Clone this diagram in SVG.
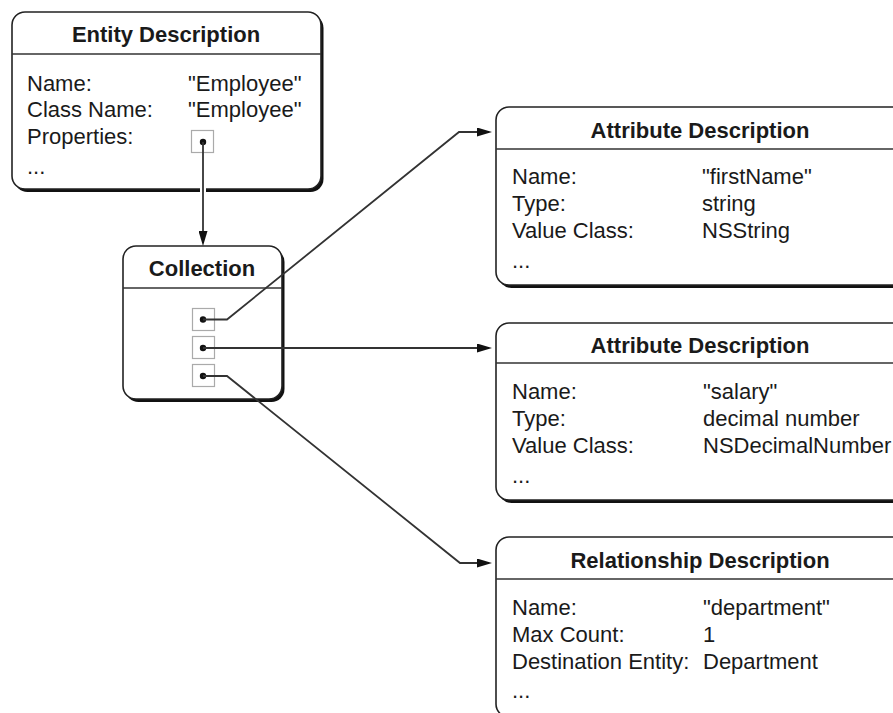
<svg xmlns="http://www.w3.org/2000/svg" width="893" height="713" viewBox="0 0 893 713">
  <defs>
    <style>
      .shadow { fill: #111; }
      .box { fill: #fff; stroke: #222; stroke-width: 1.6; }
      .sep { stroke: #333; stroke-width: 1.6; }
      .title { font-family: "Liberation Sans", Arial, sans-serif; font-weight: bold; font-size: 22px; text-anchor: middle; fill: #1a1a1a; }
      .txt { font-family: "Liberation Sans", Arial, sans-serif; font-size: 22px; fill: #1a1a1a; }
      .slot { fill: #fff; stroke: #aaa; stroke-width: 1.2; }
      .dot { fill: #111; }
      .wire { fill: none; stroke: #333; stroke-width: 1.8; }
      .halo { fill: none; stroke: #fff; stroke-width: 6; }
    </style>
    <marker id="arrow" viewBox="0 0 15 9" markerWidth="15" markerHeight="9" refX="12" refY="4.5" markerUnits="userSpaceOnUse" orient="auto">
      <path d="M0,0 L15,4.5 L0,9 z" fill="#111"/>
    </marker>
  </defs>

  <!-- Entity Description -->
  <g id="entity">
    <rect class="shadow" x="14.5" y="15" width="309" height="177" rx="13"/>
    <rect class="box" x="12" y="12" width="309" height="177" rx="13"/>
    <line class="sep" x1="12" y1="54" x2="321" y2="54"/>
    <text class="title" x="166" y="42">Entity Description</text>
    <text class="txt" x="27" y="91">Name:</text>
    <text class="txt" x="188" y="91">"Employee"</text>
    <text class="txt" x="27" y="117">Class Name:</text>
    <text class="txt" x="188" y="117">"Employee"</text>
    <text class="txt" x="27" y="144">Properties:</text>
    <rect class="slot" x="191.5" y="130.5" width="22" height="22"/>
    <circle class="dot" cx="203" cy="142" r="3.2"/>
    <text class="txt" x="27" y="174">...</text>
  </g>

  <!-- Collection -->
  <g id="collection">
    <rect class="shadow" x="125.5" y="249" width="159" height="153" rx="13"/>
    <rect class="box" x="123" y="246" width="159" height="153" rx="13"/>
    <line class="sep" x1="123" y1="288" x2="282" y2="288"/>
    <text class="title" x="202" y="276">Collection</text>
    <rect class="slot" x="192.5" y="308.5" width="22" height="22"/>
    <rect class="slot" x="192.5" y="336.5" width="22" height="22"/>
    <rect class="slot" x="192.5" y="364.5" width="22" height="22"/>
    <circle class="dot" cx="203" cy="319.5" r="3.2"/>
    <circle class="dot" cx="203" cy="348" r="3.2"/>
    <circle class="dot" cx="203" cy="376" r="3.2"/>
  </g>

  <!-- Attribute Description: firstName -->
  <g id="attr-firstName">
    <rect class="shadow" x="498.5" y="110" width="410" height="178" rx="13"/>
    <rect class="box" x="496" y="107" width="410" height="178" rx="13"/>
    <line class="sep" x1="496" y1="149" x2="906" y2="149"/>
    <text class="title" x="700" y="138">Attribute Description</text>
    <text class="txt" x="512" y="184">Name:</text>
    <text class="txt" x="702" y="184">"firstName"</text>
    <text class="txt" x="512" y="211">Type:</text>
    <text class="txt" x="702" y="211">string</text>
    <text class="txt" x="512" y="238">Value Class:</text>
    <text class="txt" x="702" y="238">NSString</text>
    <text class="txt" x="512" y="268">...</text>
  </g>

  <!-- Attribute Description: salary -->
  <g id="attr-salary">
    <rect class="shadow" x="498.5" y="326" width="410" height="177" rx="13"/>
    <rect class="box" x="496" y="323" width="410" height="177" rx="13"/>
    <line class="sep" x1="496" y1="363" x2="906" y2="363"/>
    <text class="title" x="700" y="353">Attribute Description</text>
    <text class="txt" x="512" y="399">Name:</text>
    <text class="txt" x="703" y="399">"salary"</text>
    <text class="txt" x="512" y="426">Type:</text>
    <text class="txt" x="703" y="426">decimal number</text>
    <text class="txt" x="512" y="453">Value Class:</text>
    <text class="txt" x="703" y="453">NSDecimalNumber</text>
    <text class="txt" x="512" y="483">...</text>
  </g>

  <!-- Relationship Description: department -->
  <g id="rel-department">
    <rect class="shadow" x="498.5" y="540" width="410" height="180" rx="13"/>
    <rect class="box" x="496" y="537" width="410" height="180" rx="13"/>
    <line class="sep" x1="496" y1="579" x2="906" y2="579"/>
    <text class="title" x="700" y="568">Relationship Description</text>
    <text class="txt" x="512" y="615">Name:</text>
    <text class="txt" x="703" y="615">"department"</text>
    <text class="txt" x="512" y="642">Max Count:</text>
    <text class="txt" x="703" y="642">1</text>
    <text class="txt" x="512" y="669">Destination Entity:</text>
    <text class="txt" x="703" y="669">Department</text>
    <text class="txt" x="512" y="698">...</text>
  </g>

  <!-- Connectors -->
  <g id="connectors">
    <line class="halo" x1="203" y1="184" x2="203" y2="198"/>
    <path class="wire" d="M203,142 L203,243" marker-end="url(#arrow)"/>
    <path class="wire" d="M203,319.5 L227,319.5 L459,132 L489,132" marker-end="url(#arrow)"/>
    <path class="wire" d="M203,348 L489,348" marker-end="url(#arrow)"/>
    <path class="wire" d="M203,376 L227,376 L460,563 L489,563" marker-end="url(#arrow)"/>
  </g>
</svg>
